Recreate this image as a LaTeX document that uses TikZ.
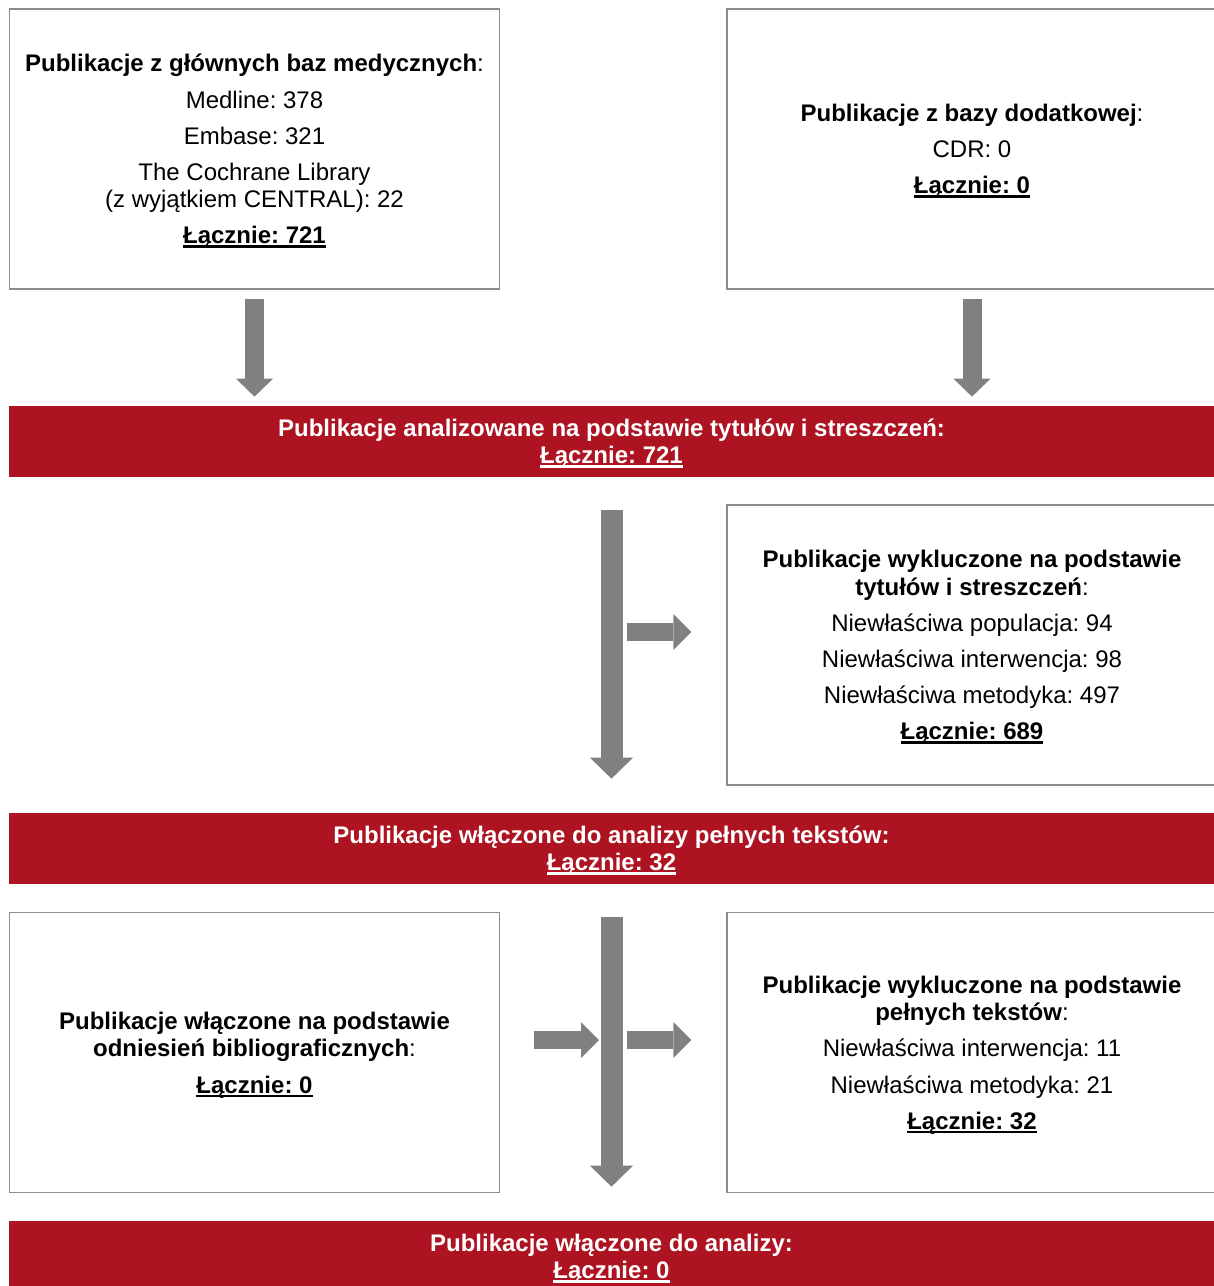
\documentclass[tikz,border=0pt]{standalone}
\usepackage{fontspec}
\setmainfont{Liberation Sans}
\usetikzlibrary{arrows.meta}
\definecolor{barred}{RGB}{173,19,33}
\definecolor{arrgray}{RGB}{128,128,128}
\definecolor{boxgray}{RGB}{140,140,140}
\frenchspacing
\newcommand\gp{\\[4.8pt]}
\newcommand\myul[1]{\raisebox{0pt}[\height][0pt]{\setbox0\hbox{#1}\rlap{\rule[-2.3pt]{\wd0}{1.4pt}}\box0}}
\newcommand\tot[1]{\myul{\textbf{#1}}}
\begin{document}
\begin{tikzpicture}[x=0.02cm,y=-0.02cm,
  txt/.style={align=center, font=\fontsize{13.66pt}{15.7pt}\selectfont, inner sep=0pt},
  box/.style={txt, draw=boxgray, line width=0.024cm, minimum width=9.8cm, minimum height=5.6cm, text=black},
  bar/.style={txt, fill=barred, text=white, font=\fontsize{13.66pt}{15.4pt}\selectfont\bfseries, minimum width=24.1cm, minimum height=1.42cm},
  toparrow/.style={draw=arrgray, line width=0.38cm, -{Triangle[length=0.36cm, width=0.74cm, line width=0pt]}},
  midarrow/.style={draw=arrgray, line width=0.44cm, -{Triangle[length=0.42cm, width=0.86cm, line width=0pt]}},
  sidearrow/.style={draw=arrgray, line width=0.36cm, -{Triangle[length=0.36cm, width=0.72cm, line width=0pt]}}
]
\useasboundingbox (0,0) rectangle (1214,1286);
\clip (0,0) rectangle (1214,1286);

\node[box] (box1) at (254.5,149) {\textbf{Publikacje z głównych baz medycznych}:\gp
Medline: 378\gp
Embase: 321\gp
The Cochrane Library\\
(z wyjątkiem CENTRAL): 22\gp
\tot{Łącznie: 721}};

\node[box] (box2) at (972,149) {\textbf{Publikacje z bazy dodatkowej}:\gp
CDR: 0\gp
\tot{Łącznie: 0}};

\node[bar] (bar1) at (611.5,441.5) {Publikacje analizowane na podstawie tytułów i streszczeń:\\
\myul{Łącznie: 721}};

\node[box] (box3) at (972,645) {\textbf{Publikacje wykluczone na podstawie}\\
\textbf{tytułów i streszczeń}:\gp
Niewłaściwa populacja: 94\gp
Niewłaściwa interwencja: 98\gp
Niewłaściwa metodyka: 497\gp
\tot{Łącznie: 689}};

\node[bar] (bar2) at (611.5,848.5) {Publikacje włączone do analizy pełnych tekstów:\\
\myul{Łącznie: 32}};

\node[box] (box4) at (254.5,1052.5) {\textbf{Publikacje włączone na podstawie}\\
\textbf{odniesień bibliograficznych}:\gp
\tot{Łącznie: 0}};

\node[box] (box5) at (972,1052.5) {\textbf{Publikacje wykluczone na podstawie}\\
\textbf{pełnych tekstów}:\gp
Niewłaściwa interwencja: 11\gp
Niewłaściwa metodyka: 21\gp
\tot{Łącznie: 32}};

\node[bar] (bar3) at (611.5,1256.5) {Publikacje włączone do analizy:\\
\myul{Łącznie: 0}};

\coordinate (s1) at (627,632);
\coordinate (j2) at (599,1040);
\coordinate (s2) at (627,1040);

\draw[toparrow, shorten <=0.18cm, shorten >=0.18cm] (box1.south) -- (box1.south |- bar1.north);
\draw[toparrow, shorten <=0.18cm, shorten >=0.18cm] (box2.south) -- (box2.south |- bar1.north);
\draw[midarrow, shorten <=0.66cm, shorten >=0.68cm] (bar1.south) -- (bar2.north);
\draw[sidearrow, shorten >=0.7cm] (s1) -- (s1 -| box3.west);
\draw[midarrow, shorten <=0.66cm, shorten >=0.68cm] (bar2.south) -- (bar3.north);
\draw[sidearrow, shorten <=0.68cm] (j2 -| box4.east) -- (j2);
\draw[sidearrow, shorten >=0.7cm] (s2) -- (s2 -| box5.west);
\end{tikzpicture}
\end{document}
